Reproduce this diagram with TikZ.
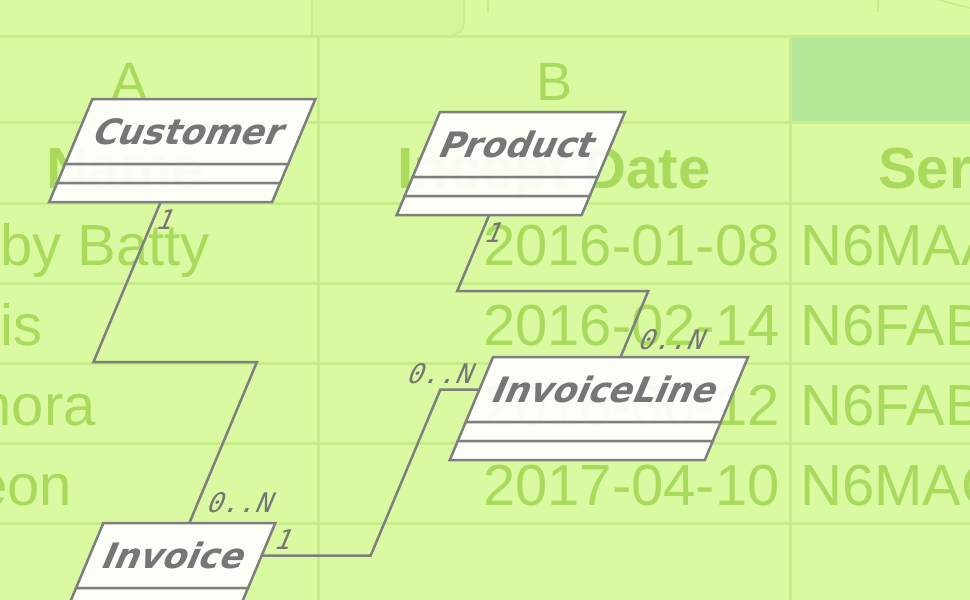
\documentclass[tikz,border=0pt]{standalone}
\usepackage{fontspec}
\usetikzlibrary{positioning}
\newfontfamily\sheetfont{Liberation Sans}
\newfontfamily\umlfont{DejaVu Sans}
\newfontfamily\multfont{DejaVu Sans Mono}
\definecolor{sheetbg}{HTML}{D9FAA1}
\definecolor{tabbg}{HTML}{D5F79B}
\definecolor{hdrbg}{HTML}{B4E798}
\definecolor{sheettext}{HTML}{A9DA5C}
\definecolor{gridline}{HTML}{C7EC89}
\definecolor{umlline}{HTML}{7F7F7F}
\definecolor{umltext}{HTML}{767676}
\tikzstyle{cell}=[inner sep=0pt, text=sheettext,
    font=\sheetfont\fontsize{58}{60}\selectfont]
\tikzstyle{head}=[cell, font=\sheetfont\bfseries\fontsize{58}{60}\selectfont]
\tikzstyle{colhead}=[cell, font=\sheetfont\fontsize{54}{56}\selectfont]
\tikzstyle{sheetline}=[draw=gridline, line width=3pt]
\tikzstyle{cls}=[draw=umlline, fill=white, fill opacity=0.93, text opacity=1,
    line width=2.5pt, inner sep=0pt, outer sep=0pt, transform shape]
\tikzstyle{clsname}=[cls, minimum height=65pt, text=umltext,
    font=\umlfont\bfseries\fontsize{35}{40}\selectfont]
\tikzstyle{clsrow}=[cls, minimum height=19pt]
\tikzstyle{mult}=[inner sep=0pt, text=umltext, transform shape,
    font=\multfont\fontsize{27}{30}\selectfont]
\tikzstyle{assoc}=[draw=umlline, line width=2.5pt]
\def\slant{0.42}
\def\custw{223pt}
\def\prodw{185pt}
\def\ilw{255pt}
\def\invw{172pt}

\begin{document}
\begin{tikzpicture}[x=1pt, y=-1pt]
    \useasboundingbox (0,0) rectangle (970,600);
    \clip (0,0) rectangle (970,600);
    % sheet
    \fill[sheetbg] (0,0) rectangle (970,600);
    \fill[tabbg] (312,0) -- (312,35) -- (452,35) arc[start angle=90, end angle=0, radius=12] -- (464,0) -- cycle;
    \draw[sheetline, line width=1.5pt] (312,0) -- (312,35);
    \draw[sheetline, line width=1.5pt] (464,0) -- (464,23) arc[start angle=0, end angle=90, radius=12];
    \draw[sheetline, line width=1.5pt] (488,0) -- (488,12);
    \draw[sheetline, line width=1.5pt] (878,0) -- (878,12);
    \draw[sheetline, line width=1.5pt] (900,0) arc[start angle=180, end angle=270, radius=8] -- (970,8);
    \fill[hdrbg] (790,36) rectangle (970,122);
    \draw[sheetline] (0,36) -- (970,36);
    \foreach \y in {122,203,283,363,443,523}
        \draw[sheetline] (0,\y) -- (970,\y);
    \foreach \x in {318,790}
        \draw[sheetline] (\x,36) -- (\x,600);
    \node (hA) [colhead, anchor=base] at (130,100) {A};
    \node (hB) [colhead, anchor=base] at (555,100) {B};
    \node (hName) [head, anchor=base] at (125,188) {Name};
    \node (hDate) [head, anchor=base] at (554,188) {Incept Date};
    \node (hSer) [head, anchor=base west] at (878,188) {Ser};
    \node (n1) [cell, anchor=base west] at (0,265) {by Batty};
    \node (n2) [cell, anchor=base west] at (0,345) {is};
    \node (n3) [cell, anchor=base east] at (96,425) {nora};
    \node (n4) [cell, anchor=base east] at (72,505) {eon};
    \node (d1) [cell, anchor=base east] at (780,265) {2016-01-08};
    \node (d2) [cell, anchor=base east] at (780,345) {2016-02-14};
    \node (d3) [cell, anchor=base east] at (780,425) {2016-06-12};
    \node (d4) [cell, anchor=base east] at (780,505) {2017-04-10};
    \node (s1) [cell, anchor=base west] at (800,265) {N6MAA};
    \node (s2) [cell, anchor=base west] at (800,345) {N6FAB};
    \node (s3) [cell, anchor=base west] at (800,425) {N6FAB};
    \node (s4) [cell, anchor=base west] at (800,505) {N6MAC};
    % class diagram, slanted
    \begin{scope}[xslant=\slant]
    \node (cust) [clsname, minimum width=\custw] at (245.5,131.5) {Customer};
    \node (custA) [clsrow, minimum width=\custw, below=0pt of cust] {};
    \node (custM) [clsrow, minimum width=\custw, below=0pt of custA] {};
    \node (prod) [clsname, minimum width=\prodw] at (579.5,144.5) {Product};
    \node (prodA) [clsrow, minimum width=\prodw, below=0pt of prod] {};
    \node (prodM) [clsrow, minimum width=\prodw, below=0pt of prodA] {};
    \node (il) [clsname, minimum width=\ilw] at (770.5,389.5) {InvoiceLine};
    \node (ilA) [clsrow, minimum width=\ilw, below=0pt of il] {};
    \node (ilM) [clsrow, minimum width=\ilw, below=0pt of ilA] {};
    \node (inv) [clsname, minimum width=\invw] at (409,555.5) {Invoice};
    \node (invA) [clsrow, minimum width=\invw, below=0pt of inv] {};
    \node (invM) [clsrow, minimum width=\invw, below=0pt of invA] {};

    \draw[assoc] (custM.south) -- ++(0,160) -- ++(163.5,0) -- (inv.north);
    \draw[assoc] (prodM.south) -- ++(0,76) -- ++(191,0) -- (il.north);
    \draw[assoc] (inv.east) -- ++(109,0) -- ++(0,-166) -- (il.west);

    \node (m1) [mult] at (259,220) {1};
    \node (m2) [mult] at (453,503) {0..N};
    \node (m3) [mult] at (593,233) {1};
    \node (m4) [mult] at (816,340) {0..N};
    \node (m5) [mult] at (599,374) {0..N};
    \node (m6) [mult] at (512,540) {1};
    \end{scope}
\end{tikzpicture}
\end{document}
